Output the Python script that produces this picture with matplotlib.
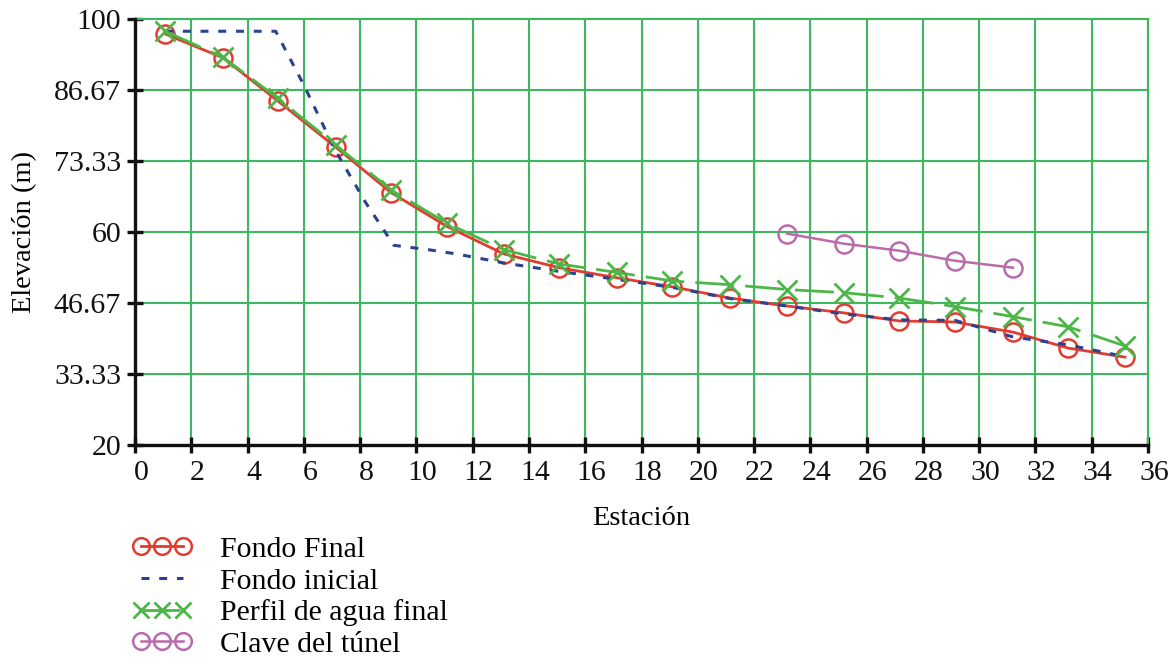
import matplotlib
matplotlib.use("Agg")
import matplotlib.pyplot as plt
import matplotlib.transforms as mtransforms

plt.rcParams['font.family'] = ['Liberation Serif', 'DejaVu Serif']

# Stations (x) for the measured profiles
estaciones = [1.07, 3.13, 5.08, 7.14, 9.1, 11.1, 13.1, 15.07, 17.13, 19.1,
              21.14, 23.17, 25.2, 27.15, 29.14, 31.2, 33.16, 35.18]
fondo_final = [97.2, 92.7, 84.6, 75.9, 67.4, 61.0, 55.9, 53.3, 51.4, 49.7,
               47.6, 46.1, 44.8, 43.3, 43.1, 41.2, 38.2, 36.5]
perfil_agua = [97.7, 92.8, 85.1, 76.3, 67.9, 61.6, 56.7, 54.0, 52.4, 50.8,
               50.1, 49.2, 48.6, 47.6, 46.0, 44.1, 42.2, 38.6]

x_inicial = [1.07, 5.0, 6.0, 7.1, 8.2, 9.2, 10.4, 11.4, 13.1, 15.07, 17.13,
             19.1, 21.14, 23.17, 25.2, 27.15, 29.14, 31.2, 33.16, 35.18]
fondo_inicial = [97.7, 97.7, 87.6, 75.5, 65.5, 57.5, 56.7, 55.9, 54.2, 52.6,
                 51.1, 49.6, 47.5, 46.1, 44.6, 43.5, 43.4, 40.3, 38.8, 36.6]

x_tunel = [23.17, 25.2, 27.15, 29.14, 31.2]
clave_tunel = [59.7, 57.8, 56.5, 54.6, 53.3]

x_ticks = list(range(0, 37, 2))
y_ticks = [20, 33.33, 46.67, 60, 73.33, 86.67, 100]
y_ticklabels = ["20", "33.33", "46.67", "60", "73.33", "86.67", "100"]

fig = plt.figure(figsize=(11.73, 6.66), dpi=100)
ax = fig.add_axes([135/1173, 1-445/666, (1148-135)/1173, (445-19)/666])

grid_c = '#3cb95f'
ax.set_xlim(0, 36)
ax.set_ylim(20, 100)
ax.set_xticks(x_ticks)
ax.set_yticks(y_ticks)
ax.set_yticklabels(y_ticklabels)
ax.grid(True, color=grid_c, linewidth=1.5, zorder=0)
ax.set_axisbelow(True)

for s in ['top', 'right']:
    ax.spines[s].set_visible(False)
for s in ['left', 'bottom']:
    ax.spines[s].set_linewidth(2.4)
    ax.spines[s].set_color('#111111')
    ax.spines[s].set_zorder(5)

ax.axhline(100, color=grid_c, lw=1.5, zorder=1, clip_on=False)
ax.axvline(36, color=grid_c, lw=1.5, zorder=1, clip_on=False)

ax.tick_params(axis='both', direction='inout', length=12, width=2.4,
               colors='#111111', labelsize=21.5)
ax.tick_params(axis='x', pad=5)
ax.tick_params(axis='y', pad=4)

# Shift x tick labels slightly right, as in the reference
offset = mtransforms.ScaledTranslation(0.06, 0, fig.dpi_scale_trans)
for lbl in ax.get_xticklabels():
    lbl.set_transform(lbl.get_transform() + offset)

red = '#e23b30'
blue = '#2c418f'
green = '#4cb648'
purple = '#b96bab'

ax.plot(estaciones, fondo_final, color=red, lw=2.0, marker='o', ms=13,
        mfc='none', mec=red, mew=1.8, label='Fondo Final', zorder=3)
ax.plot(x_inicial, fondo_inicial, color=blue, lw=2.2, dashes=(2.6, 3.2),
        label='Fondo inicial', zorder=4)
ax.plot(estaciones, perfil_agua, color=green, lw=2.0, dashes=(14, 4),
        marker='x', ms=15, mec=green, mew=2.0, label='Perfil de agua final',
        zorder=4)
ax.plot(x_tunel, clave_tunel, color=purple, lw=1.8, marker='o', ms=13,
        mfc='none', mec=purple, mew=1.8, label='Clave del túnel', zorder=4)

ax.set_xlabel('Estación', fontsize=20.5, labelpad=14)
ax.set_ylabel('Elevación (m)', fontsize=20.5, labelpad=12)

handles, labels = ax.get_legend_handles_labels()
leg = fig.legend(handles, labels, loc='upper left',
                 bbox_to_anchor=(117/1173, 1-521/666), frameon=False,
                 numpoints=3, fontsize=21.5, handlelength=2.0,
                 handletextpad=0.95, labelspacing=0.16, borderpad=0)
for h in leg.legend_handles:
    h.set_markersize(12)

fig.savefig('out.png', dpi=100)
